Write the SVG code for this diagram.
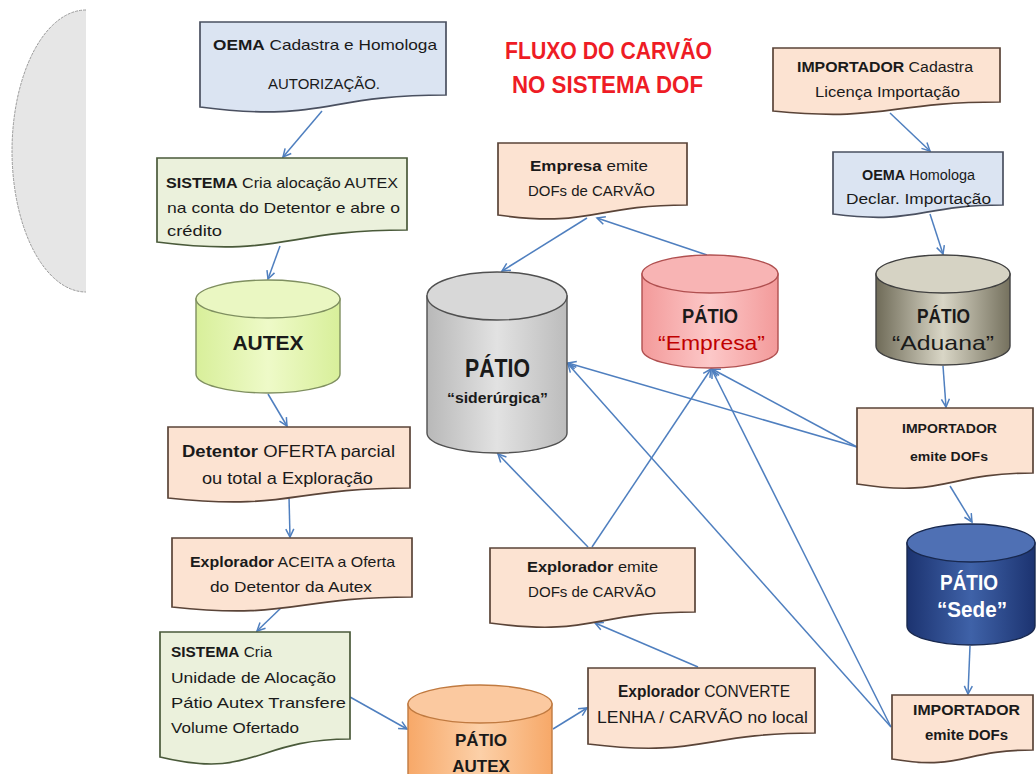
<svg xmlns="http://www.w3.org/2000/svg" width="1036" height="774" viewBox="0 0 1036 774">
<style>
text{font-family:"Liberation Sans",Arial,sans-serif;fill:#1a1a1a}
.b{font-weight:bold}
.doc{stroke:#5a4438;stroke-width:1.7}
.peach{fill:#fce3d2}
.blue{fill:#dbe4f2;stroke:#4a5060}
.green{fill:#ebf1dc;stroke:#4a5a3a}
.cyl{stroke-width:1.4}
.conn line{stroke:#4f7fbf;stroke-width:1.5;marker-end:url(#ah)}
</style>
<defs>
<marker id="ah" markerUnits="userSpaceOnUse" markerWidth="12" markerHeight="12" refX="9" refY="5" orient="auto">
<path d="M1,1 L9,5 L1,9" fill="none" stroke="#4f7fbf" stroke-width="1.5"/>
</marker>
<linearGradient id="gAutex" x1="0" x2="1" y1="0" y2="0"><stop offset="0" stop-color="#d8ef9a"/><stop offset="0.5" stop-color="#eefac8"/><stop offset="1" stop-color="#d8ef9a"/></linearGradient>
<linearGradient id="gSid" x1="0" x2="1" y1="0" y2="0"><stop offset="0" stop-color="#b8b8b8"/><stop offset="0.5" stop-color="#e2e2e2"/><stop offset="1" stop-color="#bcbcbc"/></linearGradient>
<linearGradient id="gEmp" x1="0" x2="1" y1="0" y2="0"><stop offset="0" stop-color="#f39a9a"/><stop offset="0.5" stop-color="#fcc8c8"/><stop offset="1" stop-color="#f39a9a"/></linearGradient>
<linearGradient id="gAdu" x1="0" x2="1" y1="0" y2="0"><stop offset="0" stop-color="#6f6b58"/><stop offset="0.5" stop-color="#d9d6c6"/><stop offset="1" stop-color="#75715e"/></linearGradient>
<linearGradient id="gSede" x1="0" x2="1" y1="0" y2="0"><stop offset="0" stop-color="#1c3370"/><stop offset="0.5" stop-color="#3f62a8"/><stop offset="1" stop-color="#1c3370"/></linearGradient>
<linearGradient id="gPA" x1="0" x2="1" y1="0" y2="0"><stop offset="0" stop-color="#f7a868"/><stop offset="0.5" stop-color="#fcd0a8"/><stop offset="1" stop-color="#f7a868"/></linearGradient>
</defs>
<rect width="1036" height="774" fill="#ffffff"/>

<g id="halfEllipse">
<path d="M86,10 A74,141 0 0 0 86,292 Z" fill="#e6e6e6"/>
<path d="M86,10 A74,141 0 0 0 86,292" fill="none" stroke="#9a9a9a" stroke-width="1" stroke-dasharray="3,1"/>
</g>

<g id="title">
<text x="505" y="59" class="b" font-size="24" style="fill:#ee1c25" textLength="207" lengthAdjust="spacingAndGlyphs">FLUXO DO CARVÃO</text>
<text x="512" y="93" class="b" font-size="24" style="fill:#ee1c25" textLength="191" lengthAdjust="spacingAndGlyphs">NO SISTEMA DOF</text>
</g>

<g class="conn" id="connectors">
<line x1="322" y1="111" x2="283" y2="157"/>
<line x1="280" y1="246" x2="268" y2="279"/>
<line x1="268" y1="394" x2="287" y2="426"/>
<line x1="289" y1="497" x2="290" y2="537"/>
<line x1="283" y1="606" x2="257" y2="631"/>
<line x1="350" y1="697" x2="407" y2="729"/>
<line x1="553" y1="729" x2="587" y2="708"/>
<line x1="698" y1="667" x2="595" y2="623"/>
<line x1="588" y1="547" x2="498" y2="454"/>
<line x1="592" y1="547" x2="711" y2="369"/>
<line x1="587" y1="218" x2="502" y2="271"/>
<line x1="707" y1="255" x2="597" y2="218"/>
<line x1="890" y1="113" x2="930" y2="151"/>
<line x1="930" y1="214" x2="943" y2="254"/>
<line x1="943" y1="366" x2="946" y2="407"/>
<line x1="950" y1="486" x2="972" y2="522"/>
<line x1="970" y1="646" x2="968" y2="694"/>
<line x1="857" y1="447" x2="568" y2="363"/>
<line x1="857" y1="447" x2="712" y2="369"/>
<line x1="891" y1="727" x2="568" y2="364"/>
<line x1="891" y1="727" x2="712" y2="370"/>
</g>

<g id="oemaCadastra">
<path class="doc blue" d="M200,22 H446 V95 C323,95 323,123 200,107 Z"/>
<text x="213" y="50" font-size="15" textLength="224" lengthAdjust="spacingAndGlyphs"><tspan class="b">OEMA</tspan>  Cadastra e Homologa</text>
<text x="268" y="89" font-size="15" textLength="112" lengthAdjust="spacingAndGlyphs">AUTORIZAÇÃO.</text>
</g>

<g id="sistemaAutex">
<path class="doc green" d="M157,158 H407 V230 C282,230 282,258 157,242 Z"/>
<text x="166" y="188" font-size="15" textLength="232" lengthAdjust="spacingAndGlyphs"><tspan class="b">SISTEMA</tspan> Cria alocação AUTEX</text>
<text x="167" y="213" font-size="15" textLength="233" lengthAdjust="spacingAndGlyphs">na conta do Detentor e abre o</text>
<text x="167" y="236" font-size="15" textLength="55" lengthAdjust="spacingAndGlyphs">crédito</text>
</g>

<g id="autex">
<path class="cyl" d="M196,299 V374 A72,19 0 0 0 340,374 V299 Z" fill="url(#gAutex)" stroke="#7f8f60"/>
<ellipse class="cyl" cx="268" cy="299" rx="72" ry="19" fill="#eaf7c2" stroke="#7f8f60"/>
<text x="268" y="350" class="b" font-size="21" text-anchor="middle">AUTEX</text>
</g>

<g id="detentor">
<path class="doc peach" d="M168,427 H410 V488 C289,488 289,511 168,498 Z"/>
<text x="182" y="457" font-size="17" textLength="213" lengthAdjust="spacingAndGlyphs"><tspan class="b">Detentor</tspan> OFERTA parcial</text>
<text x="202" y="484" font-size="17" textLength="171" lengthAdjust="spacingAndGlyphs">ou total a Exploração</text>
</g>

<g id="exploradorAceita">
<path class="doc peach" d="M172,538 H412 V597 C292,597 292,620 172,607 Z"/>
<text x="190" y="567" font-size="15" textLength="205" lengthAdjust="spacingAndGlyphs"><tspan class="b">Explorador</tspan> ACEITA a Oferta</text>
<text x="210" y="592" font-size="15" textLength="162" lengthAdjust="spacingAndGlyphs">do Detentor da Autex</text>
</g>

<g id="sistemaCria">
<path class="doc green" d="M160,632 H350 V739 C255,739 255,780 160,757 Z"/>
<text x="171" y="657" font-size="15" textLength="101" lengthAdjust="spacingAndGlyphs"><tspan class="b">SISTEMA</tspan> Cria</text>
<text x="171" y="683" font-size="15" textLength="165" lengthAdjust="spacingAndGlyphs">Unidade de Alocação</text>
<text x="171" y="708" font-size="15" textLength="175" lengthAdjust="spacingAndGlyphs">Pátio Autex Transfere</text>
<text x="171" y="733" font-size="15" textLength="128" lengthAdjust="spacingAndGlyphs">Volume Ofertado</text>
</g>

<g id="patioAutex">
<path class="cyl" d="M408,704 V800 H552 V704 Z" fill="url(#gPA)" stroke="#c07a40"/>
<ellipse class="cyl" cx="480" cy="704" rx="72" ry="19" fill="#fbc9a0" stroke="#c07a40"/>
<text x="481" y="746" class="b" font-size="17" text-anchor="middle">PÁTIO</text>
<text x="481" y="772" class="b" font-size="17" text-anchor="middle">AUTEX</text>
</g>

<g id="exploradorConverte">
<path class="doc peach" d="M588,668 H815 V733 C701,733 701,758 588,744 Z"/>
<text x="618" y="697" font-size="16" textLength="172" lengthAdjust="spacingAndGlyphs"><tspan class="b">Explorador</tspan> CONVERTE</text>
<text x="597" y="723" font-size="16" textLength="211" lengthAdjust="spacingAndGlyphs">LENHA / CARVÃO no local</text>
</g>

<g id="exploradorEmite">
<path class="doc peach" d="M490,548 H695 V612 C592,612 592,637 490,623 Z"/>
<text x="527" y="572" font-size="15" textLength="131" lengthAdjust="spacingAndGlyphs"><tspan class="b">Explorador</tspan> emite</text>
<text x="528" y="597" font-size="15" textLength="128" lengthAdjust="spacingAndGlyphs">DOFs de CARVÃO</text>
</g>

<g id="empresaEmite">
<path class="doc peach" d="M498,143 H687 V205 C592,205 592,228 498,215 Z"/>
<text x="530" y="171" font-size="15" textLength="118" lengthAdjust="spacingAndGlyphs"><tspan class="b">Empresa</tspan> emite</text>
<text x="528" y="196" font-size="15" textLength="127" lengthAdjust="spacingAndGlyphs">DOFs de CARVÃO</text>
</g>

<g id="patioSiderurgica">
<path class="cyl" d="M427,296 V433 A70,20 0 0 0 567,433 V296 Z" fill="url(#gSid)" stroke="#505050"/>
<ellipse class="cyl" cx="497" cy="296" rx="70" ry="24" fill="#d8d8d8" stroke="#505050"/>
<text x="465" y="377" class="b" font-size="25" textLength="65" lengthAdjust="spacingAndGlyphs">PÁTIO</text>
<text x="447" y="403" class="b" font-size="15" textLength="101" lengthAdjust="spacingAndGlyphs">“siderúrgica”</text>
</g>

<g id="patioEmpresa">
<path class="cyl" d="M642,274 V349 A68,19 0 0 0 778,349 V274 Z" fill="url(#gEmp)" stroke="#b05050"/>
<ellipse class="cyl" cx="710" cy="274" rx="68" ry="19" fill="#f8b4b4" stroke="#b05050"/>
<text x="682" y="323" class="b" font-size="20" textLength="56" lengthAdjust="spacingAndGlyphs">PÁTIO</text>
<text x="658" y="350" font-size="21" style="fill:#c00000" textLength="107" lengthAdjust="spacingAndGlyphs">“Empresa”</text>
</g>

<g id="patioAduana">
<path class="cyl" d="M876,274 V346 A67,19 0 0 0 1010,346 V274 Z" fill="url(#gAdu)" stroke="#404040"/>
<ellipse class="cyl" cx="943" cy="274" rx="67" ry="19" fill="#d6d3c4" stroke="#404040"/>
<text x="917" y="323" class="b" font-size="20" textLength="53" lengthAdjust="spacingAndGlyphs">PÁTIO</text>
<text x="892" y="350" font-size="21" textLength="102" lengthAdjust="spacingAndGlyphs">“Aduana”</text>
</g>

<g id="importadorCadastra">
<path class="doc peach" d="M773,48 H1000 V102 C886,102 886,122 773,111 Z"/>
<text x="797" y="72" font-size="14" textLength="176" lengthAdjust="spacingAndGlyphs"><tspan class="b">IMPORTADOR</tspan> Cadastra</text>
<text x="815" y="97" font-size="14" textLength="145" lengthAdjust="spacingAndGlyphs">Licença Importação</text>
</g>

<g id="oemaHomologa">
<path class="doc blue" d="M833,152 H1003 V205 C918,205 918,225 833,214 Z"/>
<text x="862" y="180" font-size="14" textLength="113" lengthAdjust="spacingAndGlyphs"><tspan class="b">OEMA</tspan> Homologa</text>
<text x="846" y="204" font-size="14" textLength="145" lengthAdjust="spacingAndGlyphs">Declar. Importação</text>
</g>

<g id="importadorEmite1">
<path class="doc peach" d="M857,408 H1033 V473 C945,473 945,498 857,484 Z"/>
<text x="902" y="433" class="b" font-size="12" textLength="95" lengthAdjust="spacingAndGlyphs">IMPORTADOR</text>
<text x="910" y="461" class="b" font-size="13" textLength="78" lengthAdjust="spacingAndGlyphs">emite DOFs</text>
</g>

<g id="patioSede">
<path class="cyl" d="M907,543 V626 A64,19 0 0 0 1035,626 V543 Z" fill="url(#gSede)" stroke="#18284e"/>
<ellipse class="cyl" cx="971" cy="543" rx="64" ry="19" fill="#4f70b4" stroke="#18284e"/>
<text x="940" y="590" class="b" font-size="22" style="fill:#ffffff" textLength="58" lengthAdjust="spacingAndGlyphs">PÁTIO</text>
<text x="937" y="617" class="b" font-size="22" style="fill:#ffffff" textLength="70" lengthAdjust="spacingAndGlyphs">“Sede”</text>
</g>

<g id="importadorEmite2">
<path class="doc peach" d="M892,695 H1033 V750 C962,750 962,771 892,759 Z"/>
<text x="913" y="715" class="b" font-size="15" textLength="107" lengthAdjust="spacingAndGlyphs">IMPORTADOR</text>
<text x="925" y="740" class="b" font-size="14" textLength="83" lengthAdjust="spacingAndGlyphs">emite DOFs</text>
</g>
</svg>
